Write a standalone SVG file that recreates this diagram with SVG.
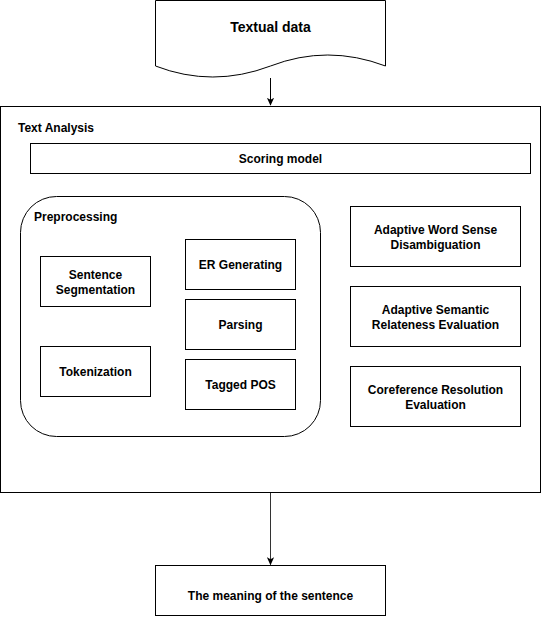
<svg xmlns="http://www.w3.org/2000/svg" width="541" height="627" viewBox="0 0 541 627">
<defs>
<style>
.box{fill:#fff;stroke:#000;stroke-width:1}
.t{font-family:"Liberation Sans",Arial,Helvetica,sans-serif;font-weight:bold;font-size:12px;fill:#000;text-anchor:middle;dominant-baseline:central}
.tl{text-anchor:start}
.edge{fill:none;stroke:#000;stroke-width:1}
</style>
<marker id="arr" viewBox="0 0 10 10" refX="9" refY="5" markerWidth="8" markerHeight="8" markerUnits="userSpaceOnUse" orient="auto">
<path d="M0,0.5 L10,5 L0,9.5 L2.5,5 Z" fill="#000"/>
</marker>
</defs>
<rect width="541" height="627" fill="#fff"/>

<g id="textual-data">
<path class="box" d="M155.5,0.5 L385.5,0.5 L385.5,66 Q327.5,44 270.5,66 Q212.5,88 155.5,66 Z"/>
<text class="t" x="270.5" y="27" style="font-size:14px">Textual data</text>
</g>

<g id="text-analysis">
<rect class="box" x="0.5" y="106.5" width="540" height="386"/>
<text class="t tl" x="18" y="128">Text Analysis</text>
</g>

<g id="scoring-model">
<rect class="box" x="30.5" y="143.5" width="500" height="30"/>
<text class="t" x="280.5" y="158.5">Scoring model</text>
</g>

<g id="preprocessing">
<rect class="box" x="20.5" y="196.5" width="300" height="240" rx="36" ry="36"/>
<text class="t tl" x="34" y="217">Preprocessing</text>
</g>

<g id="sentence-segmentation">
<rect class="box" x="40.5" y="256.5" width="110" height="50"/>
<text class="t" x="95.5" y="274.5">Sentence</text>
<text class="t" x="95.5" y="289.5">Segmentation</text>
</g>

<g id="tokenization">
<rect class="box" x="40.5" y="346.5" width="110" height="50"/>
<text class="t" x="95.5" y="371.5">Tokenization</text>
</g>

<g id="er-generating">
<rect class="box" x="185.5" y="239.5" width="110" height="50"/>
<text class="t" x="240.5" y="264.5">ER Generating</text>
</g>

<g id="parsing">
<rect class="box" x="185.5" y="299.5" width="110" height="50"/>
<text class="t" x="240.5" y="324.5">Parsing</text>
</g>

<g id="tagged-pos">
<rect class="box" x="185.5" y="359.5" width="110" height="50"/>
<text class="t" x="240.5" y="384.5">Tagged POS</text>
</g>

<g id="adaptive-wsd">
<rect class="box" x="350.5" y="206.5" width="170" height="60"/>
<text class="t" x="435.5" y="230">Adaptive Word Sense</text>
<text class="t" x="435.5" y="244.5">Disambiguation</text>
</g>

<g id="adaptive-sre">
<rect class="box" x="350.5" y="286.5" width="170" height="60"/>
<text class="t" x="435.5" y="310">Adaptive Semantic</text>
<text class="t" x="435.5" y="325">Relateness Evaluation</text>
</g>

<g id="coreference">
<rect class="box" x="350.5" y="366.5" width="170" height="60"/>
<text class="t" x="435.5" y="390">Coreference Resolution</text>
<text class="t" x="435.5" y="404.5">Evaluation</text>
</g>

<g id="meaning">
<rect class="box" x="155.5" y="565.5" width="230" height="50"/>
<text class="t" x="270.5" y="596">The meaning of the sentence</text>
</g>

<g id="connectors">
<path class="edge" d="M270.5,78 L270.5,105" marker-end="url(#arr)"/>
<path class="edge" d="M270.5,493 L270.5,564.5" marker-end="url(#arr)" style="stroke:#333"/>
</g>
</svg>
